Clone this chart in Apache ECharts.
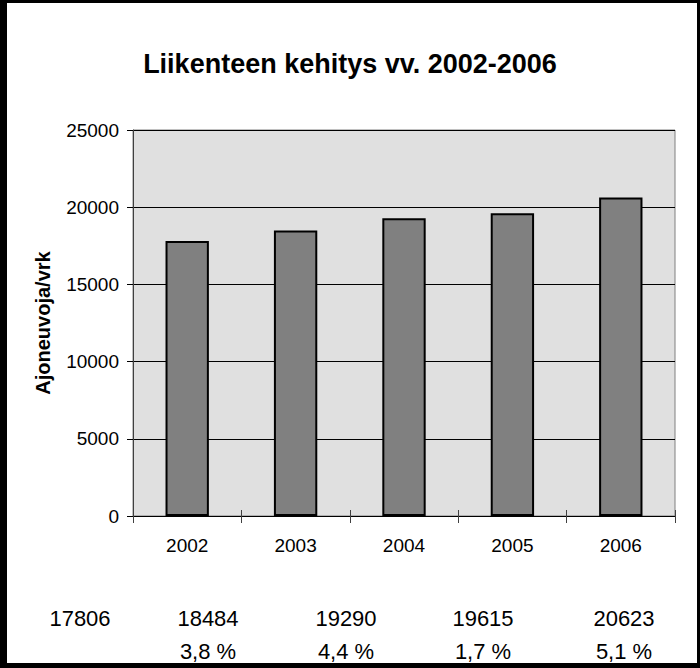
<!DOCTYPE html>
<html>
<head>
<meta charset="utf-8">
<script src="https://cdn.jsdelivr.net/npm/echarts@6/dist/echarts.min.js"></script>
<style>
  html, body { margin: 0; padding: 0; background: #fff; }
  #chart { width: 700px; height: 668px; }
</style>
</head>
<body>
<div id="chart"></div>
<script>
const years = ["2002", "2003", "2004", "2005", "2006"];
const traffic = [17806, 18484, 19290, 19615, 20623];
const yTicks = [0, 5000, 10000, 15000, 20000, 25000];
// rivi kaavion alla: vuosiarvot ja muutos-%
const tableValues = ["17806", "18484", "19290", "19615", "20623"];
const tableChange = ["", "3,8 %", "4,4 %", "1,7 %", "5,1 %"];
const tableX = [80, 208, 346, 483, 624];

const myChart = echarts.init(document.getElementById("chart"), null, { renderer: "svg" });

const fontFam = "Liberation Sans, Arial, sans-serif";

// taulukon tekstit grafiikkana
const tableTexts = [];
tableValues.forEach((v, i) => {
  tableTexts.push({
    type: "text", x: tableX[i], y: 618,
    style: { text: v, fill: "#000", font: "22px " + fontFam, textAlign: "center", textVerticalAlign: "middle" }
  });
  if (tableChange[i]) {
    tableTexts.push({
      type: "text", x: tableX[i], y: 651,
      style: { text: tableChange[i], fill: "#000", font: "22px " + fontFam, textAlign: "center", textVerticalAlign: "middle" }
    });
  }
});

const option = {
  backgroundColor: "#fff",
  animation: false,
  title: {
    text: "Liikenteen kehitys vv. 2002-2006",
    left: "center",
    top: 45,
    textStyle: { fontFamily: fontFam, fontSize: 27, fontWeight: "bold", color: "#000" }
  },
  grid: {
    left: 133, top: 130, right: 25, bottom: 152,
    show: true, backgroundColor: "#e0e0e0", borderColor: "#808080", borderWidth: 1
  },
  xAxis: [
    {
      type: "category",
      data: years,
      axisLine: { lineStyle: { color: "#000", width: 1 } },
      axisTick: { show: true, length: 7, lineStyle: { color: "#404040" } },
      axisLabel: { color: "#000", fontFamily: fontFam, fontSize: 19, margin: 20 }
    },
    {
      type: "category",
      data: years,
      position: "bottom",
      axisLine: { show: false },
      axisTick: { show: true, inside: true, length: 6, lineStyle: { color: "#404040" } },
      axisLabel: { show: false }
    }
  ],
  yAxis: {
    type: "value",
    min: yTicks[0],
    max: yTicks[yTicks.length - 1],
    interval: yTicks[1] - yTicks[0],
    name: "Ajoneuvoja/vrk",
    nameLocation: "middle",
    nameGap: 80,
    nameTextStyle: { fontFamily: fontFam, fontSize: 20, fontWeight: "bold", color: "#000" },
    axisLine: { show: true, lineStyle: { color: "#404040", width: 1 } },
    axisTick: { show: true, length: 6, lineStyle: { color: "#000" } },
    axisLabel: { color: "#000", fontFamily: fontFam, fontSize: 19, margin: 14, formatter: (v) => String(v) },
    splitLine: { show: true, lineStyle: { color: "#000", width: 1 } }
  },
  series: [
    {
      name: "Ajoneuvoja/vrk",
      type: "bar",
      data: traffic,
      barWidth: "40%",
      itemStyle: { color: "#808080", borderColor: "#000", borderWidth: 2 }
    }
  ],
  graphic: [
    // kehys
    { type: "rect", shape: { x: 0, y: 0, width: 7, height: 668 }, style: { fill: "#000" } },
    { type: "rect", shape: { x: 0, y: 0, width: 700, height: 3 }, style: { fill: "#000" } },
    { type: "rect", shape: { x: 697, y: 0, width: 3, height: 668 }, style: { fill: "#000" } },
    { type: "rect", shape: { x: 0, y: 663, width: 700, height: 5 }, style: { fill: "#000" } }
  ].concat(tableTexts)
};

myChart.setOption(option);
</script>
</body>
</html>
